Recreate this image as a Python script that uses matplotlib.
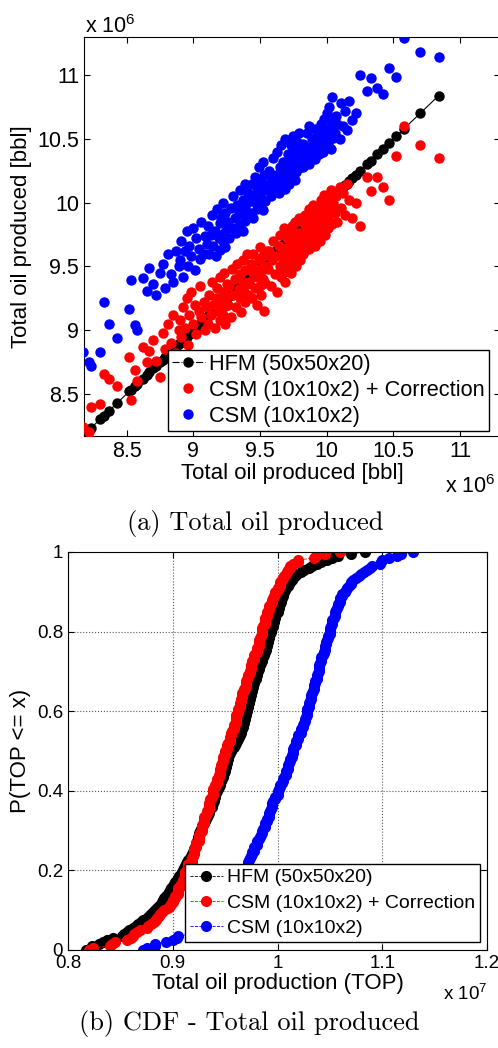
import numpy as np
import matplotlib
matplotlib.use('Agg')
import matplotlib.pyplot as plt
from matplotlib.lines import Line2D
from matplotlib.ticker import FuncFormatter

# total oil produced per realization, in millions of bbl
hfm = [8.17, 8.22, 8.23, 8.30, 8.33, 8.37, 8.43,
       8.52, 8.53, 8.56, 8.58, 8.62, 8.65, 8.67,
       8.70, 8.72, 8.75, 8.77, 8.79, 8.81, 8.83, 8.85, 8.87, 8.89,
       8.90, 8.91, 8.92, 8.94, 8.95, 8.96, 8.97, 8.98, 9.00, 9.01, 9.02, 9.04, 9.05, 9.06, 9.08, 9.09,
       9.10, 9.11, 9.12, 9.13, 9.14, 9.15, 9.16, 9.17, 9.18, 9.19, 9.20, 9.20, 9.21, 9.22, 9.22, 9.23, 9.24, 9.24, 9.25, 9.25,
       9.26, 9.27, 9.28, 9.29, 9.30, 9.31, 9.32, 9.33, 9.34, 9.35, 9.35, 9.36, 9.37, 9.37, 9.38, 9.39, 9.39, 9.40, 9.40, 9.41,
       9.42, 9.43, 9.44, 9.45, 9.45, 9.46, 9.47, 9.48, 9.48, 9.49, 9.50, 9.50, 9.51, 9.51, 9.52, 9.52, 9.53, 9.53, 9.54, 9.55,
       9.56, 9.57, 9.58, 9.59, 9.60, 9.61, 9.62, 9.63, 9.64, 9.65, 9.65, 9.66, 9.67, 9.67, 9.68, 9.68, 9.69, 9.69, 9.70, 9.70,
       9.71, 9.71, 9.72, 9.72, 9.73, 9.73, 9.74, 9.74, 9.75, 9.75, 9.76, 9.76, 9.77, 9.77, 9.78, 9.78, 9.79, 9.79, 9.80, 9.80,
       9.81, 9.82, 9.82, 9.83, 9.84, 9.85, 9.85, 9.86, 9.87, 9.87, 9.88, 9.89, 9.89, 9.90, 9.90, 9.91, 9.91, 9.92, 9.92, 9.93,
       9.94, 9.94, 9.95, 9.96, 9.96, 9.97, 9.97, 9.98, 9.98, 9.99, 10.00, 10.00, 10.01, 10.01, 10.02, 10.03, 10.03, 10.04, 10.05, 10.05,
       10.06, 10.07, 10.08, 10.10, 10.11, 10.12, 10.14, 10.15, 10.17, 10.19,
       10.22, 10.25, 10.30, 10.33, 10.38, 10.42, 10.47, 10.52, 10.58, 10.70, 10.84]

csm_corr = [8.24, 8.20, 8.40, 8.42, 8.66, 8.62, 8.56,
            8.79, 8.45, 8.69, 8.60, 8.87, 8.75, 8.84,
            8.92, 8.76, 8.63, 8.98, 8.85, 9.05, 8.90, 9.12, 8.82, 9.00,
            9.08, 8.95, 9.18, 9.02, 9.25, 8.88, 9.12, 9.30, 9.05, 9.20, 8.97, 9.15, 9.35, 9.10, 9.22, 9.00,
            9.18, 9.05, 9.28, 9.12, 9.38, 9.20, 9.02, 9.25, 9.33, 9.15, 9.08, 9.42, 9.22, 9.30, 9.12, 9.45, 9.19, 9.05, 9.36, 9.26,
            9.20, 9.35, 9.10, 9.48, 9.28, 9.40, 9.18, 9.52, 9.32, 9.25, 9.44, 9.14, 9.38, 9.55, 9.30, 9.22, 9.47, 9.36, 9.60, 9.28,
            9.38, 9.52, 9.25, 9.45, 9.60, 9.33, 9.48, 9.20, 9.42, 9.56, 9.35, 9.65, 9.28, 9.46, 9.40, 9.58, 9.15, 9.50, 9.37, 9.62,
            9.48, 9.62, 9.35, 9.55, 9.70, 9.44, 9.58, 9.30, 9.66, 9.50, 9.75, 9.42, 9.60, 9.53, 9.80, 9.46, 9.64, 9.38, 9.57, 9.72,
            9.65, 9.52, 9.78, 9.60, 9.70, 9.45, 9.82, 9.62, 9.56, 9.74, 9.68, 9.85, 9.50, 9.66, 9.76, 9.58, 9.88, 9.64, 9.71, 9.55,
            9.72, 9.85, 9.60, 9.78, 9.90, 9.68, 9.82, 9.75, 9.95, 9.64, 9.80, 9.88, 9.70, 9.76, 9.98, 9.84, 9.66, 9.79, 9.92, 9.74,
            9.82, 9.95, 9.70, 9.88, 10.02, 9.78, 9.92, 9.85, 10.06, 9.75, 9.90, 9.98, 9.80, 10.04, 9.86, 9.94, 10.10, 9.83, 9.97, 10.00,
            9.92, 10.05, 9.85, 10.12, 9.96, 10.08, 9.90, 10.15, 10.02, 9.88,
            10.00, 9.82, 10.20, 10.09, 10.20, 10.12, 10.02, 10.37, 10.60, 10.45, 10.35]

csm = [8.83, 8.75, 8.72, 8.83, 9.22, 9.05, 8.94,
       9.17, 9.39, 9.04, 9.00, 9.41, 9.31, 9.49,
       9.36, 9.28, 9.45, 9.52, 9.33, 9.60, 9.44, 9.38, 9.62, 9.50,
       9.55, 9.70, 9.42, 9.62, 9.78, 9.50, 9.66, 9.58, 9.80, 9.47, 9.72, 9.64, 9.56, 9.85, 9.60, 9.74,
       9.68, 9.82, 9.60, 9.75, 9.90, 9.66, 9.78, 9.58, 9.95, 9.72, 9.84, 9.63, 9.88, 9.70, 10.00, 9.76, 9.65, 9.92, 9.80, 9.73,
       9.85, 9.72, 9.96, 9.80, 10.05, 9.88, 9.76, 9.98, 9.92, 10.10, 9.83, 9.95, 10.02, 9.78, 9.90, 10.15, 9.86, 10.00, 9.93, 10.08,
       10.02, 9.92, 10.15, 10.06, 9.88, 10.20, 10.00, 10.12, 9.95, 10.28, 10.08, 9.98, 10.18, 10.04, 10.32, 9.94, 10.10, 10.22, 10.01, 10.14,
       10.10, 10.25, 10.05, 10.18, 10.35, 10.12, 10.22, 10.40, 10.08, 10.28, 10.16, 10.45, 10.20, 10.32, 10.14, 10.26, 10.50, 10.11, 10.30, 10.24,
       10.22, 10.38, 10.15, 10.30, 10.45, 10.26, 10.20, 10.36, 10.52, 10.28, 10.18, 10.42, 10.33, 10.24, 10.48, 10.35, 10.27, 10.55, 10.31, 10.40,
       10.36, 10.28, 10.46, 10.40, 10.32, 10.55, 10.42, 10.38, 10.30, 10.60, 10.44, 10.35, 10.50, 10.41, 10.47, 10.34, 10.58, 10.43, 10.39, 10.52,
       10.45, 10.38, 10.56, 10.48, 10.62, 10.40, 10.52, 10.66, 10.44, 10.58, 10.50, 10.70, 10.46, 10.54, 10.75, 10.42, 10.60, 10.83, 10.51, 10.64,
       10.55, 10.68, 10.62, 10.50, 10.78, 10.60, 10.72, 10.57, 10.80, 10.65,
       10.70, 11.00, 10.88, 10.98, 10.90, 10.85, 11.06, 10.99, 11.29, 11.18, 11.14]

labels = ['HFM (50x50x20)', 'CSM (10x10x2) + Correction', 'CSM (10x10x2)']

plt.rcParams['font.family'] = 'Liberation Sans'
plt.rcParams['mathtext.fontset'] = 'custom'
plt.rcParams['mathtext.rm'] = 'Liberation Sans'
plt.rcParams['mathtext.it'] = 'Liberation Sans:italic'
plt.rcParams['xtick.direction'] = 'in'
plt.rcParams['ytick.direction'] = 'in'
plt.rcParams['xtick.top'] = True
plt.rcParams['ytick.right'] = True
plt.rcParams['xtick.major.size'] = 4
plt.rcParams['ytick.major.size'] = 4

h = np.array(hfm) * 1e6
r = np.array(csm_corr) * 1e6
b = np.array(csm) * 1e6

fig = plt.figure(figsize=(4.98, 10.48), dpi=100)

# (a) crossplot against the fine model
ax1 = fig.add_axes([84 / 498, 612 / 1048, 416 / 498, 399 / 1048])
hs = np.sort(h)
ax1.plot(hs, hs, '-', color='k', lw=0.8, zorder=2)
ax1.plot(hs, hs, 'o', color='k', ms=7.5, mew=0, zorder=2)
ax1.plot(h, r, 'o', color='r', ms=7.5, mew=0, zorder=3)
ax1.plot(h, b, 'o', color='b', ms=7.5, mew=0, zorder=3)
ax1.set_xlim(8.18e6, 11.3e6)
ax1.set_ylim(8.17e6, 11.3e6)
ax1.set_xticks([8.5e6, 9e6, 9.5e6, 10e6, 10.5e6, 11e6])
ax1.set_yticks([8.5e6, 9e6, 9.5e6, 10e6, 10.5e6, 11e6])
fmt6 = FuncFormatter(lambda v, p: '%g' % round(v / 1e6, 2))
ax1.xaxis.set_major_formatter(fmt6)
ax1.yaxis.set_major_formatter(fmt6)
ax1.tick_params(labelsize=15.5)
ax1.set_xlabel('Total oil produced [bbl]', fontsize=16, labelpad=1)
ax1.set_ylabel('Total oil produced [bbl]', fontsize=16, labelpad=4)
handles = [Line2D([], [], color='k', ls='-.', lw=0.8, marker='o', ms=7.5, mew=0),
           Line2D([], [], color='r', ls='none', marker='o', ms=7.5, mew=0),
           Line2D([], [], color='b', ls='none', marker='o', ms=7.5, mew=0)]
leg = ax1.legend(handles, labels, loc='lower right', bbox_to_anchor=(0.9736, 0.0125),
                 borderaxespad=0, fontsize=15.7, fancybox=False, framealpha=1,
                 edgecolor='k', handlelength=1.5, handletextpad=0.2,
                 labelspacing=0.22, borderpad=0.2)
leg.get_frame().set_linewidth(1.0)
fig.text(85 / 498, 1 - 33 / 1048, 'x 10$^6$', fontsize=15.5)
fig.text(445 / 498, 1 - 493 / 1048, 'x 10$^6$', fontsize=15.5)
fig.text(255 / 498, 1 - 530 / 1048, '(a) Total oil produced', fontsize=19, family='cmr10', ha='center')

# (b) empirical CDFs
ax2 = fig.add_axes([68 / 498, 98 / 1048, 419 / 498, 398 / 1048])
for vals, col, lab in [(h, 'k', labels[0]), (r, 'r', labels[1]), (b, 'b', labels[2])]:
    v = np.sort(vals)
    p = np.arange(len(v)) / (len(v) - 1)
    ax2.plot(v, p, '--o', color=col, lw=0.6, ms=8, mew=0, label=lab)
ax2.set_xlim(0.8e7, 1.2e7)
ax2.set_ylim(0, 1)
ax2.set_xticks([0.8e7, 0.9e7, 1.0e7, 1.1e7, 1.2e7])
ax2.set_yticks([0, 0.2, 0.4, 0.6, 0.8, 1])
ax2.xaxis.set_major_formatter(FuncFormatter(lambda v, p: '%g' % round(v / 1e7, 2)))
ax2.yaxis.set_major_formatter(FuncFormatter(lambda v, p: '%g' % round(v, 2)))
ax2.grid(True, ls=':', color='0.35', lw=0.8)
ax2.tick_params(labelsize=13.5)
ax2.set_xlabel('Total oil production (TOP)', fontsize=16, labelpad=1)
ax2.set_ylabel('P(TOP <= x)', fontsize=16, labelpad=4)
leg2 = ax2.legend(loc='lower right', bbox_to_anchor=(0.983, 0.02), borderaxespad=0,
                  fontsize=14, fancybox=False, framealpha=1, edgecolor='k',
                  handlelength=1.7, handletextpad=0.2, labelspacing=0.4, borderpad=0.25)
leg2.get_frame().set_linewidth(1.0)
fig.text(443 / 498, 1 - 1000 / 1048, 'x 10$^7$', fontsize=13.5)
fig.text(0.5, 1 - 1030 / 1048, '(b) CDF - Total oil produced', fontsize=19, family='cmr10', ha='center')

fig.savefig('out.png', dpi=100)
